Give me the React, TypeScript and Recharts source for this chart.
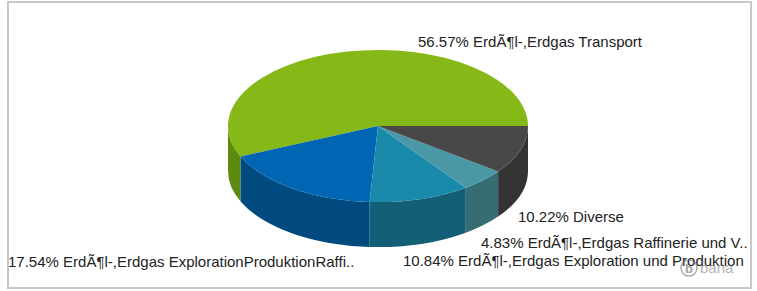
import { Cell, Pie, PieChart } from "recharts";

const SEGMENTS = [
  "ErdÃ¶l-,Erdgas Transport",
  "ErdÃ¶l-,Erdgas ExplorationProduktionRaffi..",
  "ErdÃ¶l-,Erdgas Exploration und Produktion",
  "ErdÃ¶l-,Erdgas Raffinerie und V..",
  "Diverse",
];
const SHARES = [56.57, 17.54, 10.84, 4.83, 10.22];

const TOP_COLORS = ["#86b817", "#0066b3", "#1a8aaa", "#4a97a6", "#484848"];
const SIDE_COLORS = ["#5f8a10", "#004a80", "#135f76", "#366d73", "#333333"];

// label anchors (x of text start, baseline y)
const LABEL_POS = [
  { x: 418, y: 47 },
  { x: 8, y: 267 },
  { x: 403, y: 266 },
  { x: 481, y: 248 },
  { x: 518, y: 222 },
];

const W = 757;
const H = 291;
const RX = 150;
const RATIO = 0.507;
const DEPTH = 45;
const FONT = "'Liberation Sans', Arial, sans-serif";

const data = SEGMENTS.map((name, i) => ({ name, value: SHARES[i] }));

const RAD = Math.PI / 180;

function pt(cx: number, cy: number, rx: number, ry: number, a: number) {
  return [cx + rx * Math.cos(a * RAD), cy - ry * Math.sin(a * RAD)];
}

function renderSlice(props: any) {
  const { cx, cy, outerRadius, startAngle, endAngle } = props;
  const name = props.name ?? props.payload?.name;
  const idx = Math.max(0, SEGMENTS.indexOf(name));
  const rx = outerRadius;
  const ry = outerRadius * RATIO;
  const s = Math.min(startAngle, endAngle);
  const e = Math.max(startAngle, endAngle);

  const [x1, y1] = pt(cx, cy, rx, ry, s);
  const [x2, y2] = pt(cx, cy, rx, ry, e);
  const large = e - s > 180 ? 1 : 0;
  const top = `M${cx},${cy} L${x1},${y1} A${rx},${ry} 0 ${large} 0 ${x2},${y2} Z`;

  // visible front wall, only the lower half of the ellipse
  let side: string | null = null;
  const a1 = Math.max(s, 180);
  const a2 = Math.min(e, 360);
  if (a2 > a1) {
    const [sx1, sy1] = pt(cx, cy, rx, ry, a1);
    const [sx2, sy2] = pt(cx, cy, rx, ry, a2);
    side =
      `M${sx1},${sy1} A${rx},${ry} 0 0 0 ${sx2},${sy2} ` +
      `L${sx2},${sy2 + DEPTH} A${rx},${ry} 0 0 1 ${sx1},${sy1 + DEPTH} Z`;
  }

  return (
    <g>
      {side && <path d={side} fill={SIDE_COLORS[idx]} stroke="none" />}
      <path d={top} fill={TOP_COLORS[idx]} stroke="none" />
    </g>
  );
}

function renderLabel(props: any) {
  const i = props.index ?? 0;
  const p = LABEL_POS[i];
  return (
    <text x={p.x} y={p.y} fill="#222" fontSize={15} fontFamily={FONT} textAnchor="start">
      {`${SHARES[i].toFixed(2)}% ${SEGMENTS[i]}`}
    </text>
  );
}

export default function App() {
  return (
    <div style={{ position: "fixed", left: 0, top: 0, width: W, height: H, background: "#fff" }}>
      <div style={{ position: "absolute", left: 0, top: 0 }}>
        <PieChart width={W} height={H} margin={{ top: 0, right: 0, bottom: 0, left: 0 }}>
          <Pie
            data={data}
            dataKey="value"
            nameKey="name"
            cx={378}
            cy={126}
            outerRadius={RX}
            startAngle={0}
            endAngle={360}
            stroke="none"
            shape={renderSlice}
            activeShape={renderSlice}
            inactiveShape={renderSlice}
            label={renderLabel}
            labelLine={false}
            isAnimationActive={false}
          >
            {data.map((d, i) => (
              <Cell key={d.name} fill={TOP_COLORS[i]} />
            ))}
          </Pie>
        </PieChart>
      </div>
      <div
        style={{
          position: "absolute",
          left: 7,
          top: 1,
          width: 745,
          height: 288,
          boxSizing: "border-box",
          border: "2px solid #c8c8c8",
          pointerEvents: "none",
        }}
      />
      <svg
        width={W}
        height={H}
        style={{ position: "absolute", left: 0, top: 0, pointerEvents: "none" }}
      >
        <g opacity={0.55}>
          <circle cx={689} cy={268} r={8} fill="none" stroke="#666" strokeWidth={1.5} />
          <text x={689} y={273} textAnchor="middle" fontSize={13} fontWeight="bold" fill="#555" fontFamily={FONT}>
            b
          </text>
          <text x={700} y={273} fontSize={15} fill="#777" fontFamily={FONT}>
            bana
          </text>
        </g>
      </svg>
    </div>
  );
}
